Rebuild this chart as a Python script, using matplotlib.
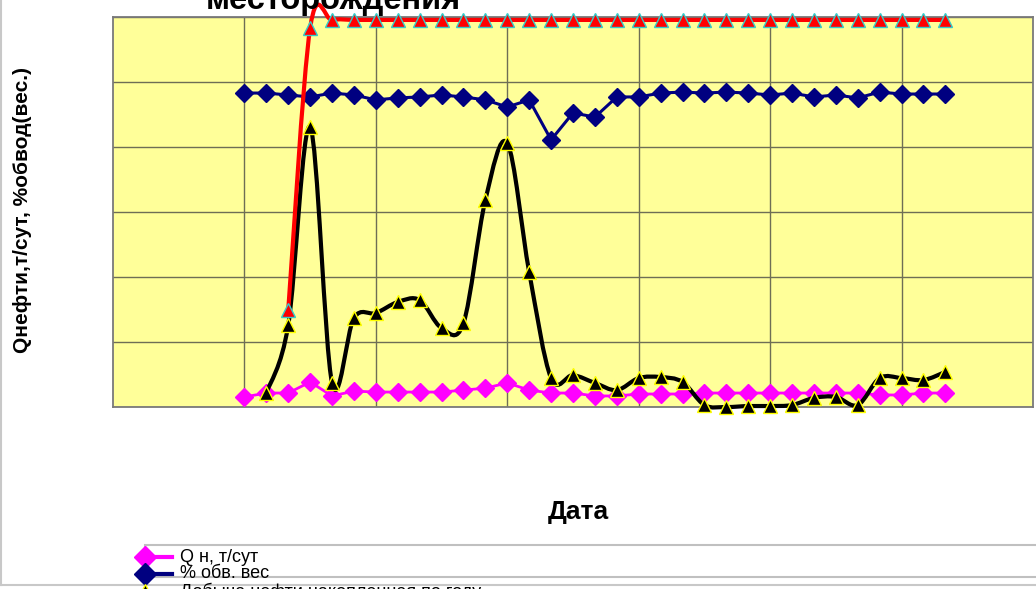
"""Monthly oil rate, water cut and cumulative curves for the field (Excel-style chart)."""

import numpy as np
import matplotlib.pyplot as plt
from matplotlib.path import Path
from matplotlib.patches import PathPatch, Rectangle
from matplotlib.lines import Line2D

plt.rcParams['font.family'] = ['Liberation Sans', 'DejaVu Sans']

# ============================================================
# Data (one value per month, NaN = no record yet)
# ============================================================
q_oil = [3.1, 4.3, 4.3, 7.7, 3.4, 4.9, 4.6, 4.6, 4.6, 4.6, 5.2,
         5.8, 7.4, 5.2, 4.3, 4.3, 3.4, 3.4, 4.0, 4.0, 4.0, 4.3,
         4.3, 4.3, 4.3, 4.3, 4.3, 4.3, 4.3, 3.7, 3.7, 4.3, 4.3]

water_cut = [96.6, 96.6, 96.0, 95.4, 96.6, 96.0, 94.5, 95.1, 95.4, 96.0, 95.4,
             94.5, 92.3, 94.5, 82.2, 90.5, 89.2, 95.4, 95.4, 96.6, 96.9, 96.6,
             96.9, 96.6, 96.0, 96.6, 95.4, 96.0, 95.1, 96.9, 96.3, 96.3, 96.3]

cum_year = [np.nan, 4.3, 25.2, 86.2, 7.4, 27.4, 28.9, 32.3, 32.9, 24.3, 25.8,
            63.7, 81.2, 41.5, 8.9, 9.8, 7.4, 5.2, 8.9, 9.2, 7.7, 0.6,
            0.0, 0.3, 0.3, 0.6, 2.8, 3.1, 0.6, 8.9, 8.9, 8.3, 10.8]

cum_total = [np.nan, np.nan, 29.8, 116.6, 119.1, 119.1, 119.1, 119.1, 119.1, 119.1, 119.1,
             119.1, 119.1, 119.1, 119.1, 119.1, 119.1, 119.1, 119.1, 119.1, 119.1, 119.1,
             119.1, 119.1, 119.1, 119.1, 119.1, 119.1, 119.1, 119.1, 119.1, 119.1, 119.1]

legend_labels = ["Q н, т/сут", "% обв. вес", "Добыча нефти накопленная по году"]

W, H = 1036, 589


def fx(px):
    return px / W


def fy(py):
    return 1 - py / H


def smooth_path(xs, ys):
    """Bezier path through the points (Catmull-Rom tangents, like Excel's smoothed line)."""
    pts = np.column_stack([xs, ys]).astype(float)
    pts = pts[~np.isnan(pts[:, 1])]
    n = len(pts)
    verts = [pts[0]]
    codes = [Path.MOVETO]
    for i in range(n - 1):
        p0 = pts[max(i - 1, 0)]
        p1 = pts[i]
        p2 = pts[i + 1]
        p3 = pts[min(i + 2, n - 1)]
        verts += [p1 + (p2 - p0) / 6, p2 - (p3 - p1) / 6, p2]
        codes += [Path.CURVE4] * 3
    return Path(verts, codes)


x = np.arange(len(q_oil))

fig = plt.figure(figsize=(W / 100, H / 100), dpi=100)
ax = fig.add_axes([fx(113), fy(407), fx(1033) - fx(113), fy(17) - fy(407)])
ax.set_facecolor('#FFFF99')
ax.set_xlim(-6, 36)
ax.set_ylim(0, 120)
ax.set_xticks(np.arange(0, 31, 6))
ax.set_yticks(np.arange(0, 121, 20))
ax.tick_params(length=0, labelleft=False, labelbottom=False)
ax.grid(color='#6e6e55', lw=1)
ax.set_axisbelow(True)
for s in ax.spines.values():
    s.set_color('#7a7a7a')
    s.set_linewidth(1.3)

# Q oil
ax.plot(x, q_oil, color='#FF00FF', lw=2, marker='D', ms=9,
        mfc='#FF00FF', mec='#FF00FF', clip_on=False, zorder=3)
# water cut
ax.plot(x, water_cut, color='#000080', lw=2.2, marker='D', ms=9,
        mfc='#000080', mec='#000080', clip_on=False, zorder=4)
# cumulative per year (smoothed)
ax.add_patch(PathPatch(smooth_path(x, cum_year), facecolor='none', edgecolor='black',
                       lw=3, clip_on=False, zorder=5, joinstyle='round'))
ax.plot(x, cum_year, ls='none', marker='^', ms=10, mfc='black', mec='#FFFF00',
        mew=1, clip_on=False, zorder=6)
# cumulative total (smoothed)
ax.add_patch(PathPatch(smooth_path(x, cum_total), facecolor='none', edgecolor='#FF0000',
                       lw=3, clip_on=False, zorder=7, joinstyle='round'))
ax.plot(x, cum_total, ls='none', marker='^', ms=9.5, mfc='#FF0000', mec='#33CCCC',
        mew=1, clip_on=False, zorder=8)

# titles
fig.text(fx(333), fy(9), 'месторождения', ha='center', va='baseline',
         fontsize=23.5, fontweight='bold')
fig.text(fx(23), fy(210), 'Qнефти,т/сут, %обвод(вес.)', rotation=90,
         ha='center', va='center', fontsize=15, fontweight='bold')
fig.text(fx(578), fy(512), 'Дата', ha='center', va='center',
         fontsize=19, fontweight='bold')

# chart frame and squeezed legend
fig.add_artist(Line2D([fx(1), fx(1)], [fy(0), fy(585)], color='#c8c8c8', lw=1.5))
fig.add_artist(Line2D([0, 1], [fy(585), fy(585)], color='#c8c8c8', lw=1.5))
fig.add_artist(Rectangle((fx(145), fy(577)), 1, fy(545) - fy(577), facecolor='white',
                         edgecolor='#c0c0c0', lw=1.5))

legend_rows = [
    (557, dict(marker='D', color='#FF00FF', mfc='#FF00FF', mec='#FF00FF', ms=11)),
    (574, dict(marker='D', color='#000080', mfc='#000080', mec='#000080', ms=11)),
    (592, dict(marker='^', color='black', mfc='black', mec='#FFFF00', ms=11)),
]
for label, (py, style) in zip(legend_labels, legend_rows):
    fig.add_artist(Line2D([fx(145), fx(172)], [fy(py), fy(py)], lw=3,
                          markevery=[0], **style))
    fig.text(fx(180), fy(py), label, ha='left', va='center', fontsize=13)

plt.savefig('out.png', dpi=100, facecolor='white')
